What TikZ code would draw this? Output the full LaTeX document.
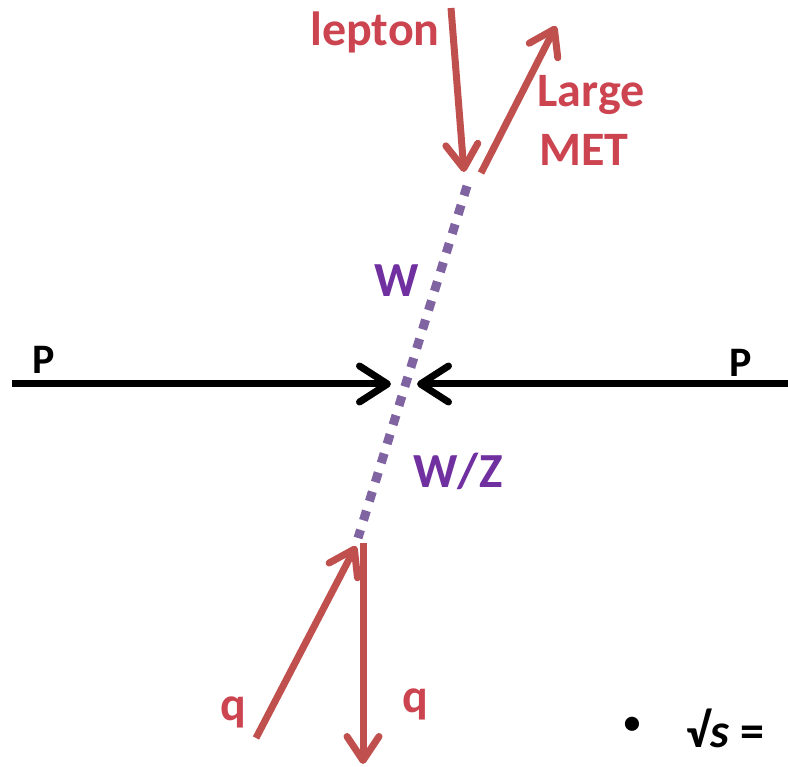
\documentclass[tikz,border=0pt]{standalone}
\usepackage{fontspec}
\setmainfont{Carlito}
\usetikzlibrary{arrows.meta}
\definecolor{arrred}{HTML}{C0504D}
\definecolor{txtred}{HTML}{CC4450}
\definecolor{dotpurple}{HTML}{8064A2}
\definecolor{txtpurple}{HTML}{7030A0}
\tikzset{
  beam/.style={line width=7pt, black, -{Straight Barb[length=28pt,width=36pt,line cap=round,line join=round]}},
  particle/.style={line width=7pt, arrred, -{Straight Barb[length=24pt,width=32pt,line cap=round,line join=round]}},
  boson/.style={line width=9pt, dotpurple, dash pattern=on 10pt off 10pt},
  redlab/.style={font=\bfseries\fontsize{48}{52}\selectfont, text=txtred, inner sep=0pt},
  purplab/.style={font=\bfseries\fontsize{49}{53}\selectfont, text=txtpurple, inner sep=0pt},
  blacklab/.style={font=\bfseries\fontsize{42}{46}\selectfont, text=black, inner sep=0pt},
}
\begin{document}
\begin{tikzpicture}[x=1pt,y=-1pt]
\useasboundingbox (0,0) rectangle (788,767);
\clip (0,0) rectangle (788,767);
% coordinates
\coordinate (pl) at (12,384);
\coordinate (pltip) at (391,384);
\coordinate (pr) at (800,384);
\coordinate (prtip) at (417,384);
\coordinate (wtop) at (467,186);
\coordinate (wbot) at (358,538);
\coordinate (lepstart) at (451,8);
\coordinate (leptip) at (464,172);
\coordinate (metstart) at (481,173);
\coordinate (mettip) at (556,26);
\coordinate (qinstart) at (256,738);
\coordinate (qintip) at (356,546);
\coordinate (qoutstart) at (363,543);
\coordinate (qouttip) at (363,764);
% beams
\draw[beam] (pl) -- (pltip);
\draw[beam] (pr) -- (prtip);
% boson
\draw[boson] (wtop) -- (wbot);
% particles
\draw[particle] (lepstart) -- (leptip);
\draw[particle] (metstart) -- (mettip);
\draw[particle] (qinstart) -- (qintip);
\draw[particle] (qoutstart) -- (qouttip);
% labels
\node[blacklab] (p1) at (44,360) {P};
\node[blacklab] (p2) at (741,363) {P};
\node[redlab] (lep) at (375,32) {lepton};
\node[redlab] (large) at (591,95) {Large};
\node[redlab] (met) at (584,150) {MET};
\node[purplab] (w) at (397,281) {W};
\node[purplab] (wz) at (458,471) {W/Z};
\node[redlab] (q1) at (233,712) {q};
\node[redlab] (q2) at (415,704) {q};
\node[font=\fontsize{40}{44}\selectfont, inner sep=0pt] (bul) at (632,726) {•};
\node[font=\bfseries\fontsize{48}{52}\selectfont, anchor=west, inner sep=0pt] (rs) at (686,728) {√\textit{s} =};
\end{tikzpicture}
\end{document}
